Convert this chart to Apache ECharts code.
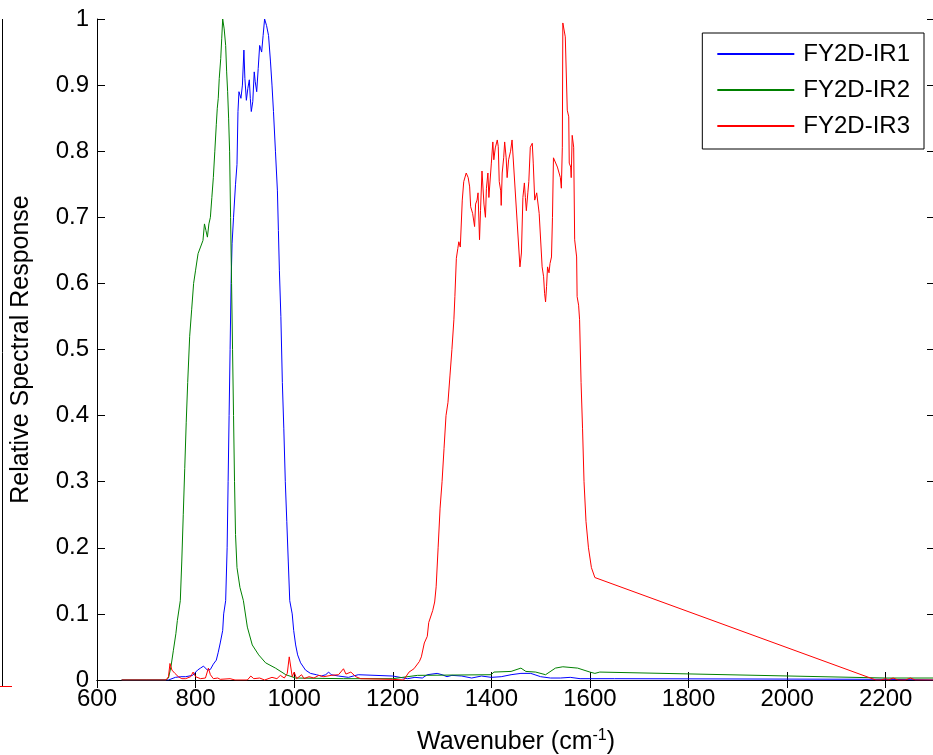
<!DOCTYPE html>
<html>
<head>
<meta charset="utf-8">
<script src="https://cdn.jsdelivr.net/npm/echarts@6/dist/echarts.min.js"></script>
<style>
html,body{margin:0;padding:0;background:#fff;overflow:hidden;}
#chart{width:933px;height:755px;}
</style>
</head>
<body>
<div id="chart"></div>
<script>
// ---- data ----
const seriesNames = ['FY2D-IR1', 'FY2D-IR2', 'FY2D-IR3'];
const xTicks = [600, 800, 1000, 1200, 1400, 1600, 1800, 2000, 2200];
const yTicks = [0, 0.1, 0.2, 0.3, 0.4, 0.5, 0.6, 0.7, 0.8, 0.9, 1];

const ir1Wave = [650, 700, 745, 749, 759, 770, 780, 794, 804, 810, 816, 820, 824, 830, 836, 842, 846, 850, 855, 857, 861, 864, 866, 868, 870, 872, 874, 877, 881, 884, 886, 888, 890, 892, 895, 898, 900, 903, 906, 909, 911, 913, 916, 919, 921, 924, 927, 930, 932, 934, 937, 940, 944, 948, 952, 955, 958, 962, 966, 968, 970, 973, 976, 979, 982, 985, 988, 991, 996, 999, 1003, 1007, 1013, 1023, 1033, 1045, 1055, 1064, 1070, 1075, 1090, 1110, 1130, 1200, 1230, 1245, 1260, 1270, 1290, 1300, 1310, 1320, 1340, 1360, 1380, 1400, 1420, 1440, 1460, 1480, 1500, 1520, 1540, 1560, 1580, 1600, 1650, 2200, 2300];
const ir1Resp = [0, 0, 0, 0.001, 0.004, 0.005, 0.005, 0.007, 0.015, 0.018, 0.021, 0.018, 0.015, 0.016, 0.024, 0.03, 0.042, 0.056, 0.075, 0.1, 0.12, 0.2, 0.3, 0.4, 0.5, 0.6, 0.66, 0.7, 0.75, 0.78, 0.86, 0.89, 0.893, 0.88, 0.9, 0.953, 0.91, 0.877, 0.895, 0.908, 0.88, 0.86, 0.875, 0.92, 0.905, 0.89, 0.925, 0.96, 0.955, 0.95, 0.975, 1.0, 0.99, 0.975, 0.935, 0.9, 0.86, 0.8, 0.74, 0.68, 0.62, 0.55, 0.45, 0.38, 0.3, 0.24, 0.18, 0.12, 0.1, 0.075, 0.053, 0.038, 0.026, 0.015, 0.01, 0.008, 0.006, 0.008, 0.012, 0.008, 0.006, 0.004, 0.008, 0.006, 0.002, 0.004, 0.003, 0.008, 0.01, 0.008, 0.005, 0.007, 0.006, 0.003, 0.006, 0.004, 0.005, 0.008, 0.01, 0.01, 0.005, 0.003, 0.003, 0.004, 0.002, 0.002, 0.002, 0.001, 0];

const ir2Wave = [650, 740, 745, 750, 755, 760, 763, 769, 772, 775, 778, 781, 784, 788, 792, 796, 800, 805, 810, 815, 818, 821, 824, 827, 830, 833, 836, 839, 842, 844, 846, 848, 851, 853, 855, 858, 861, 863, 865, 867, 869, 871, 873, 875, 877, 879, 881, 884, 890, 897, 905, 915, 928, 942, 962, 983, 1003, 1100, 1200, 1220, 1250, 1400, 1405, 1440, 1460, 1470, 1490, 1510, 1530, 1545, 1575, 1600, 1610, 1620, 2200, 2300];
const ir2Resp = [0, 0, 0.003, 0.02, 0.045, 0.07, 0.09, 0.12, 0.18, 0.25, 0.32, 0.39, 0.45, 0.52, 0.56, 0.6, 0.62, 0.645, 0.655, 0.665, 0.69, 0.68, 0.67, 0.69, 0.7, 0.73, 0.76, 0.8, 0.84, 0.865, 0.88, 0.91, 0.94, 0.97, 1.0, 0.985, 0.96, 0.92, 0.89, 0.85, 0.8, 0.7, 0.6, 0.5, 0.4, 0.3, 0.22, 0.17, 0.14, 0.12, 0.08, 0.053, 0.038, 0.026, 0.018, 0.008, 0.003, 0.002, 0.002, 0.004, 0.007, 0.008, 0.012, 0.013, 0.018, 0.013, 0.012, 0.008, 0.018, 0.02, 0.018, 0.012, 0.01, 0.012, 0.003, 0.003];

const ir3Wave = [650, 740, 745, 748, 752, 758, 765, 772, 780, 790, 795, 800, 810, 820, 826, 830, 836, 845, 850, 870, 880, 905, 912, 918, 930, 940, 955, 965, 972, 980, 986, 990, 993, 996, 1000, 1005, 1015, 1020, 1030, 1040, 1050, 1060, 1075, 1090, 1100, 1105, 1115, 1125, 1135, 1200, 1222, 1233, 1243, 1254, 1258, 1264, 1270, 1273, 1281, 1285, 1288, 1292, 1296, 1300, 1304, 1308, 1312, 1316, 1320, 1324, 1326, 1329, 1332, 1334, 1337, 1341, 1344, 1349, 1353, 1356, 1358, 1362, 1366, 1368, 1371, 1373, 1376, 1378, 1381, 1384, 1385, 1388, 1390, 1393, 1395, 1398, 1400, 1403, 1405, 1408, 1412, 1414, 1416, 1419, 1420, 1422, 1425, 1427, 1430, 1432, 1435, 1439, 1442, 1444, 1458, 1461, 1464, 1467, 1469, 1471, 1474, 1476, 1479, 1483, 1485, 1488, 1492, 1494, 1497, 1501, 1503, 1506, 1508, 1510, 1512, 1514, 1517, 1519, 1522, 1524, 1526, 1534, 1540, 1542, 1544, 1545, 1548, 1550, 1552, 1554, 1557, 1558, 1561, 1562, 1564, 1567, 1569, 1573, 1574, 1577, 1579, 1582, 1585, 1588, 1592, 1597, 1603, 1610, 2180, 2190, 2200, 2205, 2215, 2225, 2240, 2250, 2260, 2300];
const ir3Resp = [0, 0, 0.005, 0.025, 0.015, 0.01, 0.005, 0.002, 0.002, 0.005, 0.012, 0.005, 0.002, 0.003, 0.018, 0.008, 0.002, 0.003, 0.001, 0.002, 0, 0, 0.006, 0.002, 0.003, 0, 0.004, 0.002, 0.007, 0.003, 0.01, 0.035, 0.033, 0.005, 0.012, 0.002, 0.008, 0.002, 0.005, 0.003, 0.007, 0.005, 0.007, 0.008, 0.017, 0.009, 0.012, 0.005, 0.002, 0.001, 0, 0.012, 0.017, 0.028, 0.035, 0.056, 0.066, 0.087, 0.105, 0.118, 0.141, 0.2, 0.26, 0.3, 0.35, 0.4, 0.42, 0.46, 0.5, 0.545, 0.58, 0.638, 0.653, 0.663, 0.655, 0.726, 0.754, 0.767, 0.76, 0.746, 0.716, 0.706, 0.686, 0.72, 0.726, 0.737, 0.666, 0.71, 0.77, 0.769, 0.72, 0.7, 0.744, 0.767, 0.73, 0.73, 0.782, 0.814, 0.787, 0.805, 0.817, 0.807, 0.754, 0.74, 0.718, 0.767, 0.79, 0.814, 0.79, 0.76, 0.787, 0.8, 0.817, 0.82, 0.625, 0.646, 0.73, 0.752, 0.73, 0.71, 0.737, 0.754, 0.806, 0.812, 0.782, 0.726, 0.737, 0.738, 0.706, 0.703, 0.625, 0.61, 0.585, 0.572, 0.595, 0.625, 0.616, 0.63, 0.64, 0.7, 0.79, 0.776, 0.76, 0.744, 0.806, 0.994, 0.994, 0.973, 0.97, 0.862, 0.852, 0.782, 0.776, 0.76, 0.824, 0.806, 0.666, 0.64, 0.58, 0.567, 0.545, 0.45, 0.38, 0.3, 0.24, 0.2, 0.17, 0.155, 0, 0, 0.002, 0, 0.003, 0, 0, 0.003, 0, 0];

const colors = ['#0000ff', '#008000', '#ff0000'];
const waves = [ir1Wave, ir2Wave, ir3Wave];
const resps = [ir1Resp, ir2Resp, ir3Resp];

const FONT = '"Liberation Sans", Arial, sans-serif';

const chart = echarts.init(document.getElementById('chart'), null, {renderer: 'canvas'});

const baseAxisLine = {show: true, lineStyle: {color: '#000', width: 1}};
const plainNum = v => String(v);
const option = {
  animation: false,
  backgroundColor: '#fff',
  grid: {left: 97, top: 19, right: -2, bottom: 75, show: false, containLabel: false, outerBoundsMode: 'none'},
  // edge of the neighbouring panel that is cut off at the left of the picture
  graphic: [
    {type: 'line', silent: true, shape: {x1: 2.5, y1: 19, x2: 2.5, y2: 686}, style: {stroke: '#000', lineWidth: 1}},
    {type: 'line', silent: true, shape: {x1: 0, y1: 686.5, x2: 12, y2: 686.5}, style: {stroke: '#ff0000', lineWidth: 1}}
  ],
  legend: {
    data: seriesNames,
    orient: 'vertical',
    right: 9,
    top: 33,
    backgroundColor: '#fff',
    borderColor: '#000',
    borderWidth: 1,
    padding: [9, 14, 11, 15],
    itemWidth: 77,
    itemHeight: 2,
    itemGap: 12,
    icon: 'rect',
    textStyle: {fontFamily: FONT, fontSize: 24, color: '#000', lineHeight: 24, padding: [0, 0, 0, 4]}
  },
  xAxis: [{
    type: 'value', min: xTicks[0], max: 2300, interval: 200,
    position: 'bottom',
    axisLine: baseAxisLine,
    axisTick: {show: true, inside: true, length: 8, lineStyle: {color: '#000'}},
    axisLabel: {fontFamily: FONT, fontSize: 24, color: '#000', margin: 7, showMaxLabel: false, formatter: plainNum},
    splitLine: {show: false},
    name: 'Wavenuber (cm{sup|-1})',
    nameLocation: 'middle',
    nameGap: 48,
    nameTextStyle: {fontFamily: FONT, fontSize: 25, color: '#000',
      rich: {sup: {fontFamily: FONT, fontSize: 16, color: '#000', verticalAlign: 'top', padding: [0, 0, 12, 0]}}}
  }, {
    type: 'value', min: xTicks[0], max: 2300, interval: 200,
    position: 'top',
    axisLine: baseAxisLine,
    axisTick: {show: true, inside: true, length: 8, lineStyle: {color: '#000'}},
    axisLabel: {show: false},
    splitLine: {show: false}
  }],
  yAxis: [{
    type: 'value', min: yTicks[0], max: 1, interval: 0.1,
    position: 'left',
    axisLine: baseAxisLine,
    axisTick: {show: true, inside: true, length: 8, lineStyle: {color: '#000'}},
    axisLabel: {fontFamily: FONT, fontSize: 24, color: '#000', margin: 8, formatter: plainNum},
    splitLine: {show: false},
    name: 'Relative Spectral Response',
    nameLocation: 'middle',
    nameGap: 63,
    nameTextStyle: {fontFamily: FONT, fontSize: 25, color: '#000'}
  }, {
    type: 'value', min: yTicks[0], max: 1, interval: 0.1,
    position: 'right',
    axisLine: baseAxisLine,
    axisTick: {show: true, inside: true, length: 8, lineStyle: {color: '#000'}},
    axisLabel: {show: false},
    splitLine: {show: false}
  }],
  series: seriesNames.map((name, k) => ({
    name: name,
    type: 'line',
    xAxisIndex: 0,
    yAxisIndex: 0,
    showSymbol: false,
    symbol: 'none',
    clip: true,
    lineStyle: {color: colors[k], width: 1},
    itemStyle: {color: colors[k]},
    data: waves[k].map((w, i) => [w, resps[k][i]])
  }))
};
chart.setOption(option);
</script>
</body>
</html>
